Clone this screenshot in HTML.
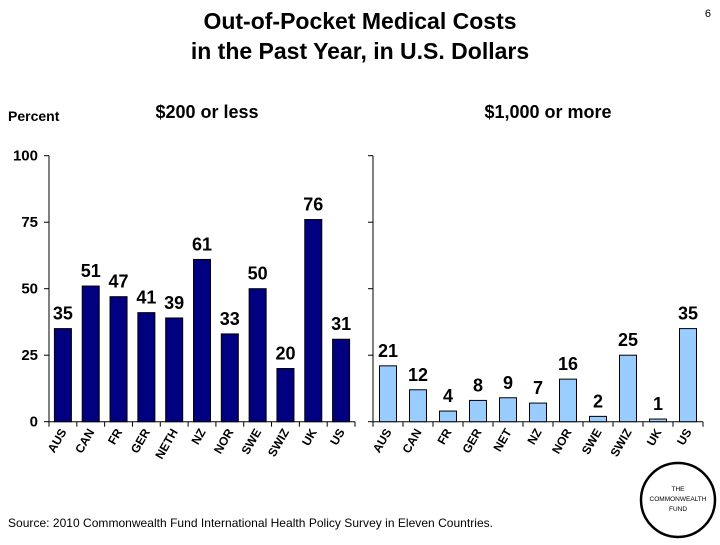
<!DOCTYPE html>
<html><head><meta charset="utf-8"><style>
body{margin:0;background:#fff;width:720px;height:540px;overflow:hidden;font-family:"Liberation Sans",Arial,sans-serif}
</style></head><body>
<svg width="720" height="540" xmlns="http://www.w3.org/2000/svg" font-family="Liberation Sans, Arial, sans-serif">
<text x="360" y="29" text-anchor="middle" font-size="23" font-weight="bold">Out-of-Pocket Medical Costs</text>
<text x="360" y="59" text-anchor="middle" font-size="23" font-weight="bold">in the Past Year, in U.S. Dollars</text>
<text x="711" y="17" text-anchor="end" font-size="11">6</text>
<text x="8" y="121" font-size="14" font-weight="bold">Percent</text>
<text x="207" y="118" text-anchor="middle" font-size="18" font-weight="bold">$200 or less</text>
<text x="548" y="118" text-anchor="middle" font-size="18" font-weight="bold">$1,000 or more</text>
<g id="plots"></g>
<text x="8" y="527" font-size="12" textLength="485">Source: 2010 Commonwealth Fund International Health Policy Survey in Eleven Countries.</text>
<g>
<circle cx="678" cy="500" r="37" fill="none" stroke="#000" stroke-width="2.5"/>
<text x="678" y="491" text-anchor="middle" font-size="6.5">THE</text>
<text x="678" y="501" text-anchor="middle" font-size="6.5">COMMONWEALTH</text>
<text x="678" y="511" text-anchor="middle" font-size="6.5">FUND</text>
</g>
</svg>
<script>
const leftCats=["AUS","CAN","FR","GER","NETH","NZ","NOR","SWE","SWIZ","UK","US"];
const leftVals=[35,51,47,41,39,61,33,50,20,76,31];
const rightCats=["AUS","CAN","FR","GER","NET","NZ","NOR","SWE","SWIZ","UK","US"];
const rightVals=[21,12,4,8,9,7,16,2,25,1,35];
const yTicks=[0,25,50,75,100];
const NS="http://www.w3.org/2000/svg";
const g=document.getElementById("plots");
const y0=421.7,y100=155.7;
function yScale(v){return y0-(v/100)*(y0-y100);}
function mk(tag,attrs){const e=document.createElementNS(NS,tag);for(const k in attrs)e.setAttribute(k,attrs[k]);g.appendChild(e);return e;}
function panel(cats,vals,x0,x1,fill,showLabels,prefix){
  let ax=mk("line",{x1:x0,y1:y100,x2:x0,y2:y0,stroke:"#000","stroke-width":1});
  
  
  let bx=mk("line",{x1:x0,y1:y0,x2:x1,y2:y0,stroke:"#000","stroke-width":1});
  
  
  yTicks.forEach(t=>{
    const y=yScale(t);
    mk("line",{x1:x0-5,y1:y,x2:x0,y2:y,stroke:"#000"});
    if(showLabels){
      const tx=mk("text",{x:x0-11,y:y+5,"text-anchor":"end","font-size":15,"font-weight":"bold"});
      tx.textContent=t;
      
      
    }
  });
  const step=(x1-x0)/cats.length;
  for(let i=0;i<=cats.length;i++){mk("line",{x1:x0+i*step,y1:y0,x2:x0+i*step,y2:y0+5,stroke:"#000"});}
  cats.forEach((c,i)=>{
    const cx=x0+(i+0.5)*step, w=17, v=vals[i], y=yScale(v);
    const r=mk("rect",{x:cx-w/2,y:y,width:w,height:y0-y,fill:fill,stroke:"#000","stroke-width":1});
    
    
    const lb=mk("text",{x:cx,y:y-9,"text-anchor":"middle","font-size":18,"font-weight":"bold"});
    lb.textContent=v;
    
    
    const cl=mk("text",{x:0,y:0,"text-anchor":"end","font-size":12,"font-weight":"bold",transform:`translate(${cx+4},${y0+10}) rotate(-60)`});
    cl.textContent=c;
    
    
  });
}
panel(leftCats,leftVals,49,355,"#000080",true,"left");
panel(rightCats,rightVals,373,703,"#99CCFF",false,"right");
</script>
</body></html>
